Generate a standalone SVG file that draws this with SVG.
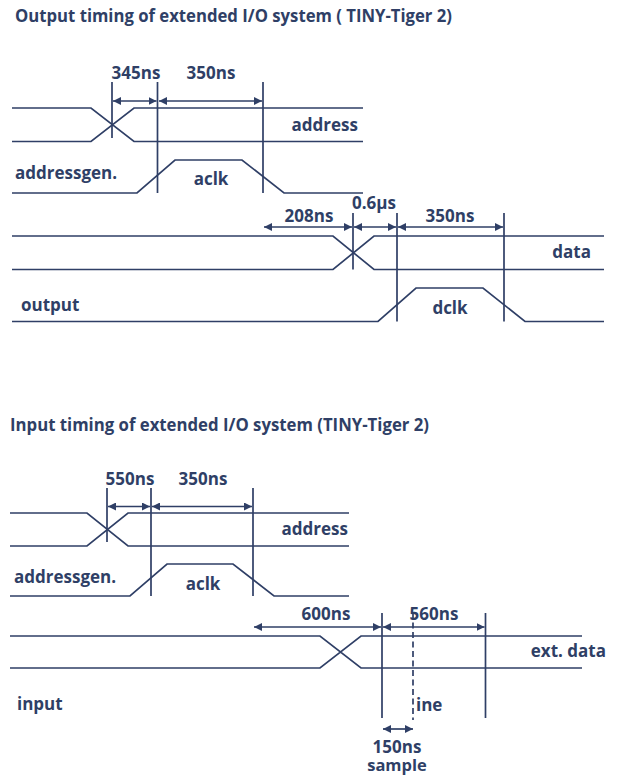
<svg xmlns="http://www.w3.org/2000/svg" width="624" height="779" viewBox="0 0 624 779">
<style>
text{font-family:"Open Sans","Noto Sans","Liberation Sans",sans-serif;font-weight:700;font-size:17px;fill:#2f3f66}
.m{text-anchor:middle}
.e{text-anchor:end}
.w{fill:none;stroke:#2f3f66;stroke-width:1.7}
.d{stroke-dasharray:6 3.5}
.a{marker-start:url(#s);marker-end:url(#h)}
</style>
<defs>
<marker id="h" markerUnits="userSpaceOnUse" markerWidth="9" markerHeight="9" refX="8" refY="4" orient="auto"><path d="M0 0L8 4L0 8z" fill="#2f3f66"/></marker>
<marker id="s" markerUnits="userSpaceOnUse" markerWidth="9" markerHeight="9" refX="0" refY="4" orient="auto"><path d="M8 0L0 4L8 8z" fill="#2f3f66"/></marker>
</defs>
<rect width="624" height="779" fill="#fff"/>
<g id="connectors">
<path class="w" d="M12 108H91L134 141.500H363M12 141.500H91L134 108H363"/>
<path class="w" d="M12 193H137L175 160H242L284 193H363"/>
<path class="w" d="M112 82V138M157.500 82V193M263 82V193"/>
<path class="w a" d="M113 101H156.500"/><path class="w a" d="M159 101H262"/>
<path class="w" d="M12 236H333L374 269.500H604M12 269.500H333L374 236H604"/>
<path class="w" d="M12 321.500H378L416 288H483L525 321.500H604"/>
<path class="w" d="M353 213V269.500M397 213V321.500M504 213V321.500"/>
<path class="w a" d="M264 227H352"/><path class="w a" d="M354 227H396"/><path class="w a" d="M398 227H503"/>
<path class="w" d="M10 513H87L128 546H349M10 546H87L128 513H349"/>
<path class="w" d="M10 596H130L167 564H233L274 596H349"/>
<path class="w" d="M107 488V542M151 488V596M253 488V596"/>
<path class="w a" d="M108 506.500H150"/><path class="w a" d="M152 506.500H252"/>
<path class="w" d="M10 636H320L361 668H582M10 668H320L361 636H582"/>
<path class="w" d="M382 613V718M485.500 613V718"/>
<path class="w d" d="M413 613V720"/>
<path class="w a" d="M254 627H381"/><path class="w a" d="M383 627H484.500"/><path class="w a" d="M383 729H413"/>
</g>
<g id="output-title"><text x="15" y="22" textLength="437" lengthAdjust="spacingAndGlyphs">Output timing of extended I/O system ( TINY-Tiger 2)</text></g>
<g id="t345"><text class="m" x="136" y="79">345ns</text></g>
<g id="t350a"><text class="m" x="211" y="79">350ns</text></g>
<g id="address1"><text class="e" x="358" y="131">address</text></g>
<g id="addressgen1"><text x="15" y="179">addressgen.</text></g>
<g id="aclk1"><text class="m" x="211" y="185">aclk</text></g>
<g id="t208"><text class="m" x="309" y="222">208ns</text></g>
<g id="t06"><text class="m" x="374" y="209">0.6µs</text></g>
<g id="t350b"><text class="m" x="450" y="222">350ns</text></g>
<g id="data"><text class="e" x="591" y="258">data</text></g>
<g id="output"><text x="21" y="311">output</text></g>
<g id="dclk"><text class="m" x="450" y="314">dclk</text></g>
<g id="input-title"><text x="10" y="431" textLength="419" lengthAdjust="spacingAndGlyphs">Input timing of extended I/O system (TINY-Tiger 2)</text></g>
<g id="t550"><text class="m" x="130" y="485">550ns</text></g>
<g id="t350c"><text class="m" x="203" y="485">350ns</text></g>
<g id="address2"><text class="e" x="348" y="535">address</text></g>
<g id="addressgen2"><text x="14" y="583">addressgen.</text></g>
<g id="aclk2"><text class="m" x="203" y="590">aclk</text></g>
<g id="t600"><text class="m" x="326" y="620">600ns</text></g>
<g id="t560"><text class="m" x="434" y="620">560ns</text></g>
<g id="extdata"><text class="e" x="606" y="657">ext. data</text></g>
<g id="input"><text x="17" y="710">input</text></g>
<g id="ine"><text x="416" y="711">ine</text></g>
<g id="t150"><text class="m" x="397" y="753">150ns</text></g>
<g id="sample"><text class="m" x="397" y="771" style="font-size:16.500px">sample</text></g>
</svg>
